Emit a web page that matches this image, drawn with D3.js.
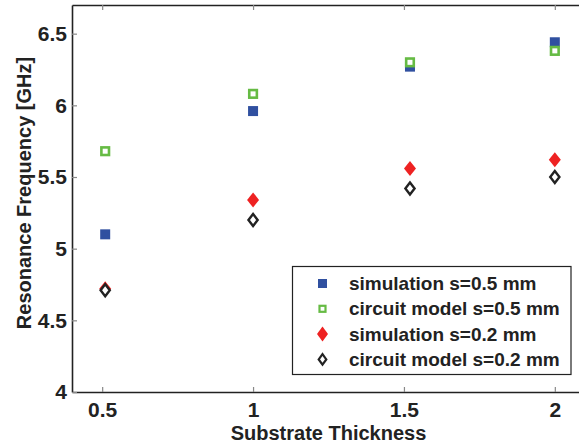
<!DOCTYPE html>
<html>
<head>
<meta charset="utf-8">
<script src="https://cdn.jsdelivr.net/npm/d3@7"></script>
<style>
  body { margin: 0; background: #fff; }
  svg { display: block; font-family: "Liberation Sans", Arial, sans-serif; font-weight: bold; }
</style>
</head>
<body>
<div id="chart"></div>
<script>
// Datos
const thickness = [0.51, 1.0, 1.52, 2.0];
const simS05 = [5.10, 5.96, 6.27, 6.44];
const circS05 = [5.68, 6.08, 6.30, 6.38];
const simS02 = [4.72, 5.34, 5.56, 5.62];
const circS02 = [4.71, 5.20, 5.42, 5.50];
const xTicks = [0.5, 1, 1.5, 2];
const yTicks = [4, 4.5, 5, 5.5, 6, 6.5];
const legendLabels = [
    "simulation s=0.5 mm",
    "circuit model s=0.5 mm",
    "simulation s=0.2 mm",
    "circuit model s=0.2 mm"
];

const width = 579;
const height = 447;
const margin = { top: 5, right: -6, bottom: 55, left: 72 };

const svg = d3.select("#chart")
    .append("svg")
    .attr("width", width)
    .attr("height", height);

const x = d3.scaleLinear()
    .domain([0.4, 2.1])
    .range([margin.left, width - margin.right]);

const y = d3.scaleLinear()
    .domain([4, 6.7])
    .range([height - margin.bottom, margin.top]);

// Ejes
const xAxis = svg.append("g")
    .attr("transform", `translate(0,${height - margin.bottom})`)
    .call(d3.axisBottom(x).tickValues(xTicks).tickFormat(d3.format("")).tickSizeInner(-5).tickSizeOuter(0).tickPadding(10));

const xTop = svg.append("g")
    .attr("transform", `translate(0,${margin.top})`)
    .call(d3.axisTop(x).tickValues(xTicks).tickFormat("").tickSizeInner(-5).tickSizeOuter(0));

const yAxis = svg.append("g")
    .attr("transform", `translate(${margin.left},0)`)
    .call(d3.axisLeft(y).tickValues(yTicks).tickFormat(d3.format("")).tickSizeInner(-5).tickSizeOuter(0).tickPadding(5));

[xAxis, xTop, yAxis].forEach(a => {
    a.select(".domain").attr("stroke", "#222").attr("stroke-width", 1.6);
    a.selectAll(".tick line").attr("stroke", "#888").attr("stroke-width", 1.2);
    a.selectAll(".tick text")
        .attr("fill", "#222")
        .style("font-size", "21px")
        .style("font-weight", "bold")
        .style("font-family", "'Liberation Sans', Arial, sans-serif");
});

// Etiquetas de los ejes
svg.append("text")
    .attr("x", x(1.25))
    .attr("y", 440)
    .attr("text-anchor", "middle")
    .attr("fill", "#222")
    .style("font-size", "20px")
    .text("Substrate Thickness");

svg.append("text")
    .attr("transform", `translate(31,193) rotate(-90)`)
    .attr("text-anchor", "middle")
    .attr("fill", "#222")
    .style("font-size", "20px")
    .text("Resonance Frequency [GHz]");

// Rombo con ancho y alto propios
function diamond(cx, cy, hw, hh) {
    const p = d3.path();
    p.moveTo(cx, cy - hh);
    p.lineTo(cx + hw, cy);
    p.lineTo(cx, cy + hh);
    p.lineTo(cx - hw, cy);
    p.closePath();
    return p.toString();
}

const blue = "#3050a0";
const green = "#66bb44";
const red = "#ee2222";
const black = "#222";

// Serie 1: simulación s=0.5
svg.selectAll(".sim05")
    .data(simS05)
    .enter()
    .append("rect")
    .attr("x", (d, i) => x(thickness[i]) - 5)
    .attr("y", d => y(d) - 5)
    .attr("width", 10)
    .attr("height", 10)
    .attr("fill", blue);

// Serie 2: modelo de circuito s=0.5
svg.selectAll(".circ05")
    .data(circS05)
    .enter()
    .append("rect")
    .attr("x", (d, i) => x(thickness[i]) - 3.8)
    .attr("y", d => y(d) - 3.8)
    .attr("width", 7.6)
    .attr("height", 7.6)
    .attr("fill", "#fff")
    .attr("stroke", green)
    .attr("stroke-width", 2.6);

// Serie 3: simulación s=0.2
svg.selectAll(".sim02")
    .data(simS02)
    .enter()
    .append("path")
    .attr("d", (d, i) => diamond(x(thickness[i]), y(d), 6, 7.5))
    .attr("fill", red);

// Serie 4: modelo de circuito s=0.2
svg.selectAll(".circ02")
    .data(circS02)
    .enter()
    .append("path")
    .attr("d", (d, i) => diamond(x(thickness[i]), y(d), 4.6, 6))
    .attr("fill", "#fff")
    .attr("stroke", black)
    .attr("stroke-width", 2.4);

// Leyenda
const legend = svg.append("g");
legend.append("rect")
    .attr("x", 292.5)
    .attr("y", 266.5)
    .attr("width", 278.5)
    .attr("height", 108)
    .attr("fill", "#fff")
    .attr("stroke", "#222")
    .attr("stroke-width", 1.2);

const rowY = i => 283.5 + i * 25.3;
const mx = 322.5;

legend.append("rect").attr("x", mx - 4.5).attr("y", rowY(0) - 4.5).attr("width", 9).attr("height", 9).attr("fill", blue);
legend.append("rect").attr("x", mx - 3).attr("y", rowY(1) - 3).attr("width", 6).attr("height", 6)
    .attr("fill", "#fff").attr("stroke", green).attr("stroke-width", 2.2);
legend.append("path").attr("d", diamond(mx, rowY(2), 5.5, 7.5)).attr("fill", red);
legend.append("path").attr("d", diamond(mx, rowY(3), 3.8, 5.2)).attr("fill", "#fff").attr("stroke", black).attr("stroke-width", 2.2);

legend.selectAll(".legend-label")
    .data(legendLabels)
    .enter()
    .append("text")
    .attr("x", 349)
    .attr("y", (d, i) => rowY(i))
    .attr("dy", "0.35em")
    .attr("fill", "#222")
    .style("font-size", "19px")
    .text(d => d);
</script>
</body>
</html>
